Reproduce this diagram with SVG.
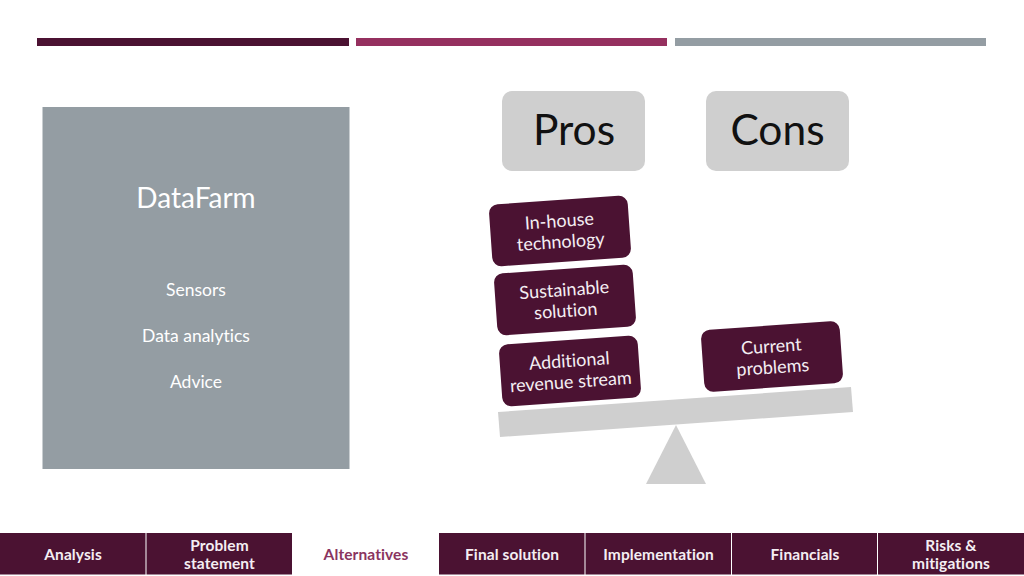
<svg xmlns="http://www.w3.org/2000/svg" width="1024" height="576" viewBox="0 0 1024 576">
<style>
text{font-family:"Lato","Open Sans","Liberation Sans",sans-serif;text-anchor:middle;font-variant-ligatures:none}
.side{fill:#fff;font-size:17.500px}
.head{fill:#111;font-size:42.500px}
.card{fill:#4b1232}
.ct{fill:#f4eef2;font-size:18px}
.tab{fill:#4b1232}
.tt{fill:#f4eef2;font-size:15.500px;font-weight:700;letter-spacing:.1px}
.g{fill:#cfcfcf}
</style>
<rect width="1024" height="576" fill="#fff"/>
<g id="top-bars">
<rect x="37" y="38" width="312" height="8" fill="#4b1232"/>
<rect x="356" y="38" width="311" height="8" fill="#95305f"/>
<rect x="675" y="38" width="311" height="8" fill="#949da3"/>
</g>
<g id="datafarm">
<rect x="42.500" y="107" width="307" height="362" fill="#949da3"/>
<text x="196" y="208" fill="#fff" font-size="28">DataFarm</text>
<text x="196" y="296" class="side">Sensors</text>
<text x="196" y="342" class="side">Data analytics</text>
<text x="196" y="388" class="side">Advice</text>
</g>
<g id="pros">
<rect x="502" y="91" width="143" height="80" rx="10" class="g"/>
<text x="574" y="145" class="head">Pros</text>
</g>
<g id="cons">
<rect x="706" y="91" width="143" height="80" rx="10" class="g"/>
<text x="777.500" y="145" class="head">Cons</text>
</g>
<g id="scale">
<polygon class="g" points="498,412 851,387 853,412 500,437"/>
<polygon class="g" points="676,425 706,484 646,484"/>
</g>
<g id="in-house" transform="translate(560 231) rotate(-4)">
<rect x="-69.500" y="-31" width="139" height="62" rx="9" class="card"/>
<text y="-4" class="ct">In-house</text><text y="17" class="ct">technology</text>
</g>
<g id="sustainable" transform="translate(565 300) rotate(-4)">
<rect x="-69.500" y="-31" width="139" height="62" rx="9" class="card"/>
<text y="-4" class="ct">Sustainable</text><text y="17" class="ct">solution</text>
</g>
<g id="additional" transform="translate(570 371) rotate(-4)">
<rect x="-69.500" y="-31" width="139" height="62" rx="9" class="card"/>
<text y="-4" class="ct">Additional</text><text y="17" class="ct">revenue stream</text>
</g>
<g id="current" transform="translate(772 356.500) rotate(-4)">
<rect x="-69.500" y="-31" width="139" height="62" rx="9" class="card"/>
<text y="-4" class="ct">Current</text><text y="17" class="ct">problems</text>
</g>
<g id="nav-analysis"><rect x="0" y="533" width="145.500" height="41.500" class="tab"/><text x="73" y="560" class="tt">Analysis</text></g>
<g id="nav-problem"><rect x="146.500" y="533" width="145.500" height="41.500" class="tab"/><text x="219.500" y="551" class="tt">Problem</text><text x="219.500" y="569" class="tt">statement</text></g>
<g id="nav-alternatives"><text x="366" y="560" class="tt" style="fill:#8a3460">Alternatives</text></g>
<g id="nav-final"><rect x="439" y="533" width="145.500" height="41.500" class="tab"/><text x="512" y="560" class="tt">Final solution</text></g>
<g id="nav-implementation"><rect x="585.500" y="533" width="145.500" height="41.500" class="tab"/><text x="658.500" y="560" class="tt">Implementation</text></g>
<g id="nav-financials"><rect x="732" y="533" width="145" height="41.500" class="tab"/><text x="805" y="560" class="tt">Financials</text></g>
<g id="nav-risks"><rect x="878" y="533" width="146" height="41.500" class="tab"/><text x="951" y="551" class="tt">Risks &amp;</text><text x="951" y="569" class="tt">mitigations</text></g>
</svg>
